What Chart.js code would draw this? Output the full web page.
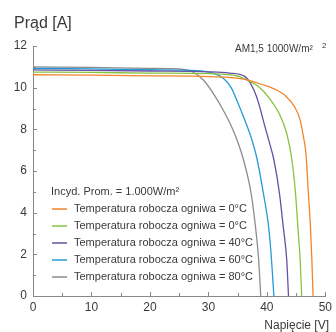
<!DOCTYPE html>
<html>
<head>
<meta charset="utf-8">
<script src="https://cdn.jsdelivr.net/npm/chart.js@4"></script>
<style>
  body { margin: 0; background: #fff; }
  canvas { display: block; }
</style>
</head>
<body>
<canvas id="ivChart" width="336" height="332"></canvas>
<script>
// napięcie [V] i prąd [A] dla każdej krzywej
const labels = [
    "Temperatura robocza ogniwa = 0°C",
    "Temperatura robocza ogniwa = 0°C",
    "Temperatura robocza ogniwa = 40°C",
    "Temperatura robocza ogniwa = 60°C",
    "Temperatura robocza ogniwa = 80°C"
];
const colors = ["#f5832a", "#86c440", "#6650a4", "#239bd6", "#8c8c8c"];

const vOrange = [0, 10, 20, 30, 35.8, 39.3, 41.6, 43.3, 44.7, 45.6, 46.2, 46.7, 47.1, 47.45, 47.7, 47.9];
const iOrange = [10.62, 10.6, 10.57, 10.53, 10.42, 10.14, 9.9, 9.58, 9.1, 8.54, 7.74, 6.78, 4.94, 3.33, 1.73, 0];

const vGreen = [0, 10, 20, 30, 35, 36.5, 38.7, 40.4, 42.2, 43.4, 44.25, 44.9, 45.3, 45.7, 45.95];
const iGreen = [10.75, 10.73, 10.7, 10.67, 10.56, 10.38, 10.02, 9.5, 8.7, 7.8, 6.6, 4.94, 3.33, 1.73, 0];

const vPurple = [0, 10, 20, 30, 33.6, 36.2, 37.3, 38.2, 38.9, 39.6, 40.4, 41.2, 42.15, 42.8, 43.4, 43.7];
const iPurple = [10.85, 10.83, 10.8, 10.76, 10.7, 10.54, 10.16, 9.6, 8.95, 8.2, 7.4, 6.54, 4.94, 3.33, 1.73, 0];

const vBlue = [0, 10, 20, 28, 30.8, 32.5, 33.9, 35.0, 36.2, 37.3, 38.3, 39.4, 40.3, 40.8, 41.2];
const iBlue = [10.93, 10.9, 10.86, 10.82, 10.7, 10.46, 10.0, 9.3, 8.46, 7.62, 6.6, 4.94, 3.33, 1.73, 0];

const vGray = [0, 10, 20, 25, 27.4, 29.1, 30.8, 32.5, 34.2, 35.3, 36.0, 37.3, 38.05, 38.6, 38.95];
const iGray = [11.0, 10.97, 10.93, 10.9, 10.74, 10.38, 9.74, 8.94, 7.98, 7.18, 6.54, 4.94, 3.33, 1.73, 0];

const xTicks = [0, 10, 20, 30, 40, 50];
const yTicks = [0, 2, 4, 6, 8, 10, 12];

const series = [[vOrange, iOrange], [vGreen, iGreen], [vPurple, iPurple], [vBlue, iBlue], [vGray, iGray]];

const FONT = "'Liberation Sans', Arial, sans-serif";
const TXT = "#3a3a3a";

const datasets = series.map((s, k) => ({
    label: labels[k],
    data: s[0].map((v, j) => ({ x: v, y: s[1][j] })),
    borderColor: colors[k],
    borderWidth: 1.3,
    pointRadius: 0,
    fill: false,
    cubicInterpolationMode: 'monotone'
}));

// krótkie kreski podziałki skierowane do środka + napisy
const extras = {
    id: 'extras',
    afterDraw(chart) {
        const ctx = chart.ctx;
        const a = chart.chartArea;
        const xs = chart.scales.x, ys = chart.scales.y;
        ctx.save();
        ctx.strokeStyle = "#888";
        ctx.lineWidth = 1;
        ctx.beginPath();
        ys.ticks.forEach(t => {
            const y = Math.round(ys.getPixelForValue(t.value)) + 0.5;
            const len = yTicks.includes(t.value) ? 4 : 3;
            ctx.moveTo(a.left, y);
            ctx.lineTo(a.left + len, y);
        });
        xs.ticks.forEach(t => {
            const x = Math.round(xs.getPixelForValue(t.value)) + 0.5;
            const len = xTicks.includes(t.value) ? 4 : 3;
            ctx.moveTo(x, a.bottom);
            ctx.lineTo(x, a.bottom - len);
        });
        ctx.stroke();

        ctx.fillStyle = TXT;
        ctx.textBaseline = 'alphabetic';
        ctx.textAlign = 'left';
        ctx.font = "16px " + FONT;
        ctx.fillText("Prąd [A]", 14, 28);

        ctx.textAlign = 'right';
        ctx.font = "12px " + FONT;
        ctx.fillText("Napięcie [V]", 329, 329);

        ctx.textAlign = 'left';
        ctx.font = "10px " + FONT;
        ctx.fillText("AM1,5 1000W/m²", 235, 52);
        ctx.font = "8px " + FONT;
        ctx.fillText("2", 322, 48);

        // legenda
        ctx.textBaseline = 'middle';
        ctx.font = "11px " + FONT;
        ctx.fillText("Incyd. Prom. = 1.000W/m²", 51, 192);
        chart.data.datasets.forEach((d, k) => {
            const y = 209 + k * 17;
            ctx.strokeStyle = d.borderColor;
            ctx.lineWidth = 1.5;
            ctx.beginPath();
            ctx.moveTo(52, y);
            ctx.lineTo(67, y);
            ctx.stroke();
            ctx.fillStyle = TXT;
            ctx.fillText(d.label, 74, y);
        });
        ctx.restore();
    }
};

const ctx = document.getElementById('ivChart').getContext('2d');
new Chart(ctx, {
    type: 'line',
    data: { datasets: datasets },
    options: {
        responsive: false,
        animation: false,
        layout: { padding: { top: 46, right: 10, left: 0, bottom: 0 } },
        plugins: { legend: { display: false }, tooltip: { enabled: false } },
        scales: {
            x: {
                type: 'linear',
                min: 0,
                max: 50,
                grid: { display: false, drawTicks: false },
                border: { display: true, color: '#888', width: 1 },
                ticks: {
                    stepSize: 5,
                    padding: 4,
                    color: TXT,
                    font: { family: FONT, size: 12 },
                    maxRotation: 0,
                    callback: v => xTicks.includes(v) ? v : ''
                },
                afterFit: s => { s.height = 36; }
            },
            y: {
                min: 0,
                max: 12,
                grid: { display: false, drawTicks: false },
                border: { display: true, color: '#888', width: 1 },
                ticks: {
                    stepSize: 1,
                    padding: 6,
                    color: TXT,
                    font: { family: FONT, size: 12 },
                    callback: v => yTicks.includes(v) ? v : ''
                },
                afterFit: s => { s.width = 33; }
            }
        }
    },
    plugins: [extras]
});
</script>
</body>
</html>
